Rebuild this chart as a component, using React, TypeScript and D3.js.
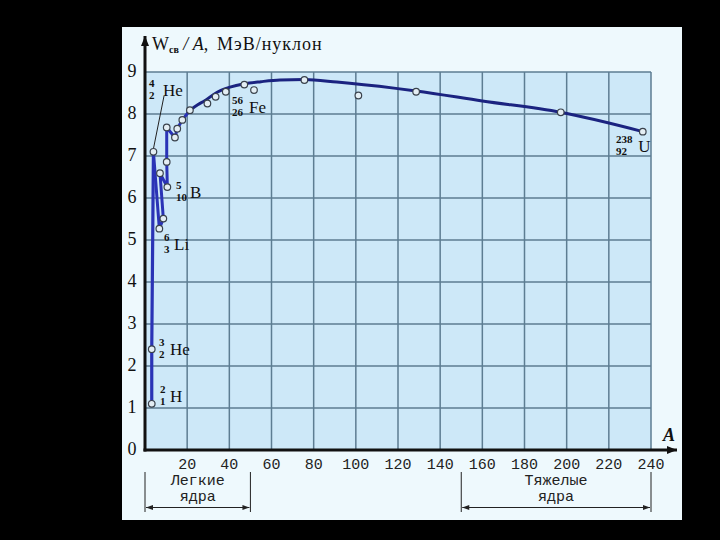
import React from 'react';
import * as d3 from 'd3';

// ---- data ----
// measured points: mass number A, binding energy per nucleon (MeV)
const pointA = [3.2, 3.2, 4, 6.8, 8.7, 7.1, 10.6, 10.3, 10.3, 14.2, 15.3, 17.7, 21.3, 29.6, 33.5, 38.3, 47.1, 51.7, 75.6, 101.2, 128.6, 197.2, 236.1];
const pointW = [1.1, 2.4, 7.1, 5.27, 5.51, 6.59, 6.26, 6.86, 7.68, 7.44, 7.65, 7.86, 8.09, 8.25, 8.41, 8.53, 8.70, 8.57, 8.81, 8.44, 8.53, 8.04, 7.58];

// lightest nuclei line (2H -> 3He -> 4He)
const lightA = [3.2, 3.2, 4];
const lightW = [1.1, 2.4, 7.1];

// zig-zag line of light nuclei
const zigA = [4, 6.8, 8.7, 7.1, 10.6, 10.3, 10.3, 14.2, 15.3, 17.7, 21.3];
const zigW = [7.1, 5.27, 5.51, 6.59, 6.26, 6.86, 7.68, 7.44, 7.65, 7.86, 8.09];

// smooth curve
const curveA = [21.3, 25, 28.5, 32.4, 36, 40.3, 47.1, 55, 64, 75.6, 91, 119, 128.6, 160, 197.2, 236.1];
const curveW = [8.09, 8.22, 8.32, 8.46, 8.56, 8.64, 8.72, 8.77, 8.81, 8.82, 8.76, 8.61, 8.55, 8.31, 8.04, 7.58];

const xTicks = [20, 40, 60, 80, 100, 120, 140, 160, 180, 200, 220, 240];
const yTicks = [0, 1, 2, 3, 4, 5, 6, 7, 8, 9];

// nuclide labels: mass number, charge, symbol, anchor (A, W) of symbol, anchor A of numbers
const labelMass = ['4', '56', '5', '6', '3', '2', '238'];
const labelZ = ['2', '26', '10', '3', '2', '1', '92'];
const labelSym = ['He', 'Fe', 'B', 'Li', 'He', 'H', 'U'];
const labelA = [8.5, 49.3, 21.3, 13.8, 11.9, 11.9, 233.9];
const labelW = [8.43, 8.02, 6.0, 4.76, 2.26, 1.14, 7.09];
const labelNumA = [1.9, 41.3, 14.7, 9.0, 6.6, 7.1, 223.4];

// ranges of nuclei groups
const groupNames = [['Легкие', 'ядра'], ['Тяжелые', 'ядра']];
const groupFrom = [0, 150];
const groupTo = [50, 240];

export default function App() {
  const x = d3.scaleLinear().domain([0, 240]).range([145, 651]);
  const y = d3.scaleLinear().domain([0, 9]).range([450, 72]);

  const mk = (as: number[], ws: number[], curve: any) =>
    d3.line<number>().x((a) => x(a)).y((_, i) => y(ws[i])).curve(curve)(as) || '';

  const lightPath = mk(lightA, lightW, d3.curveLinear);
  const zigPath = mk(zigA, zigW, d3.curveLinear);
  const mainPath = mk(curveA, curveW, d3.curveMonotoneX);

  const serif = 'Liberation Serif, Times New Roman, serif';
  const mono = 'Liberation Mono, monospace';
  const gridColor = '#5d7d92';

  return (
    <svg width={720} height={540} style={{ position: 'absolute', left: 0, top: 0, display: 'block' }}>
      <defs>
        <marker id="arr" viewBox="0 0 10 10" refX="10" refY="5" markerWidth="10" markerHeight="10" markerUnits="userSpaceOnUse" orient="auto">
          <path d="M0,1 L10,5 L0,9 Z" fill="#111" />
        </marker>
        <marker id="arrS" viewBox="0 0 10 10" refX="10" refY="5" markerWidth="11" markerHeight="7" markerUnits="userSpaceOnUse" orient="auto-start-reverse">
          <path d="M0,1.5 L10,5 L0,8.5 Z" fill="#222" />
        </marker>
      </defs>
      <rect x={0} y={0} width={720} height={540} fill="#000" />
      <rect x={122} y={27} width={560} height={493} fill="#eef9fd" />
      <rect x={x(0)} y={y(9)} width={x(240) - x(0)} height={y(0) - y(9)} fill="#cde8f8" />

      {/* grid */}
      {xTicks.map((t) => (
        <line key={'gx' + t} x1={x(t)} x2={x(t)} y1={y(0)} y2={y(9)} stroke={gridColor} strokeWidth={1.5} />
      ))}
      {yTicks.filter((t) => t > 0).map((t) => (
        <line key={'gy' + t} x1={x(0)} x2={x(240)} y1={y(t)} y2={y(t)} stroke={gridColor} strokeWidth={1.5} />
      ))}

      {/* axes */}
      <line x1={x(0)} y1={y(0) + 1.5} x2={x(0)} y2={36} stroke="#111" strokeWidth={3} markerEnd="url(#arr)" />
      <line x1={x(0) - 1.5} y1={y(0)} x2={677} y2={y(0)} stroke="#111" strokeWidth={3} markerEnd="url(#arr)" />

      {/* y tick labels */}
      {yTicks.map((t) => (
        <text key={'yl' + t} x={132} y={y(t) + 5} textAnchor="middle" fontFamily={serif} fontSize={18} fill="#111">
          {t}
        </text>
      ))}
      {/* x tick labels */}
      {xTicks.map((t) => (
        <text key={'xl' + t} x={x(t)} y={469} textAnchor="middle" fontFamily={mono} fontSize={15} fill="#222">
          {t}
        </text>
      ))}

      {/* axis titles */}
      <text x={152} y={50} fontFamily={serif} fontSize={18} fill="#111">
        W<tspan fontSize={10} fontWeight="bold" dy={3}>св</tspan>
        <tspan dy={-3} fontStyle="italic"> / A</tspan>
        <tspan>,</tspan>
        <tspan x={217} letterSpacing={1}>МэВ/нуклон</tspan>
      </text>
      <text x={663} y={441} fontFamily={serif} fontSize={18} fontStyle="italic" fontWeight="bold" fill="#111">A</text>

      {/* leader for 4He */}
      <line x1={164} y1={96} x2={x(4)} y2={y(7.1) - 3} stroke="#222" strokeWidth={1} />

      {/* curves */}
      <path d={lightPath} fill="none" stroke="#2a33b6" strokeWidth={3.2} />
      <path d={zigPath} fill="none" stroke="#2a33b6" strokeWidth={3} strokeLinejoin="round" />
      <path d={mainPath} fill="none" stroke="#1b2380" strokeWidth={3} />

      {/* points */}
      {pointA.map((a, i) => (
        <circle key={'p' + i} cx={x(a)} cy={y(pointW[i])} r={3.3} fill="#e4eef4" stroke="#3a424c" strokeWidth={1.2} />
      ))}

      {/* nuclide labels */}
      {labelSym.map((s, i) => (
        <g key={'lab' + i} fill="#111" fontFamily={serif}>
          <text x={x(labelNumA[i])} y={y(labelW[i]) - 9} fontSize={11} fontWeight="bold">{labelMass[i]}</text>
          <text x={x(labelNumA[i])} y={y(labelW[i]) + 3} fontSize={11} fontWeight="bold">{labelZ[i]}</text>
          <text x={x(labelA[i])} y={y(labelW[i])} fontSize={17}>{s}</text>
        </g>
      ))}

      {/* group brackets */}
      {groupNames.map((names, i) => {
        const x0 = x(groupFrom[i]);
        const x1 = x(groupTo[i]);
        const cx = (x0 + x1) / 2;
        return (
          <g key={'grp' + i}>
            <line x1={x0} x2={x0} y1={472} y2={512} stroke="#222" strokeWidth={1} />
            <line x1={x1} x2={x1} y1={472} y2={512} stroke="#222" strokeWidth={1} />
            <line x1={x0 + 1} x2={x1 - 1} y1={507.5} y2={507.5} stroke="#222" strokeWidth={1.2} markerStart="url(#arrS)" markerEnd="url(#arrS)" />
            <text x={cx} y={485} textAnchor="middle" fontFamily={mono} fontSize={15} fill="#222">{names[0]}</text>
            <text x={cx} y={501} textAnchor="middle" fontFamily={mono} fontSize={15} fill="#222">{names[1]}</text>
          </g>
        );
      })}
    </svg>
  );
}
